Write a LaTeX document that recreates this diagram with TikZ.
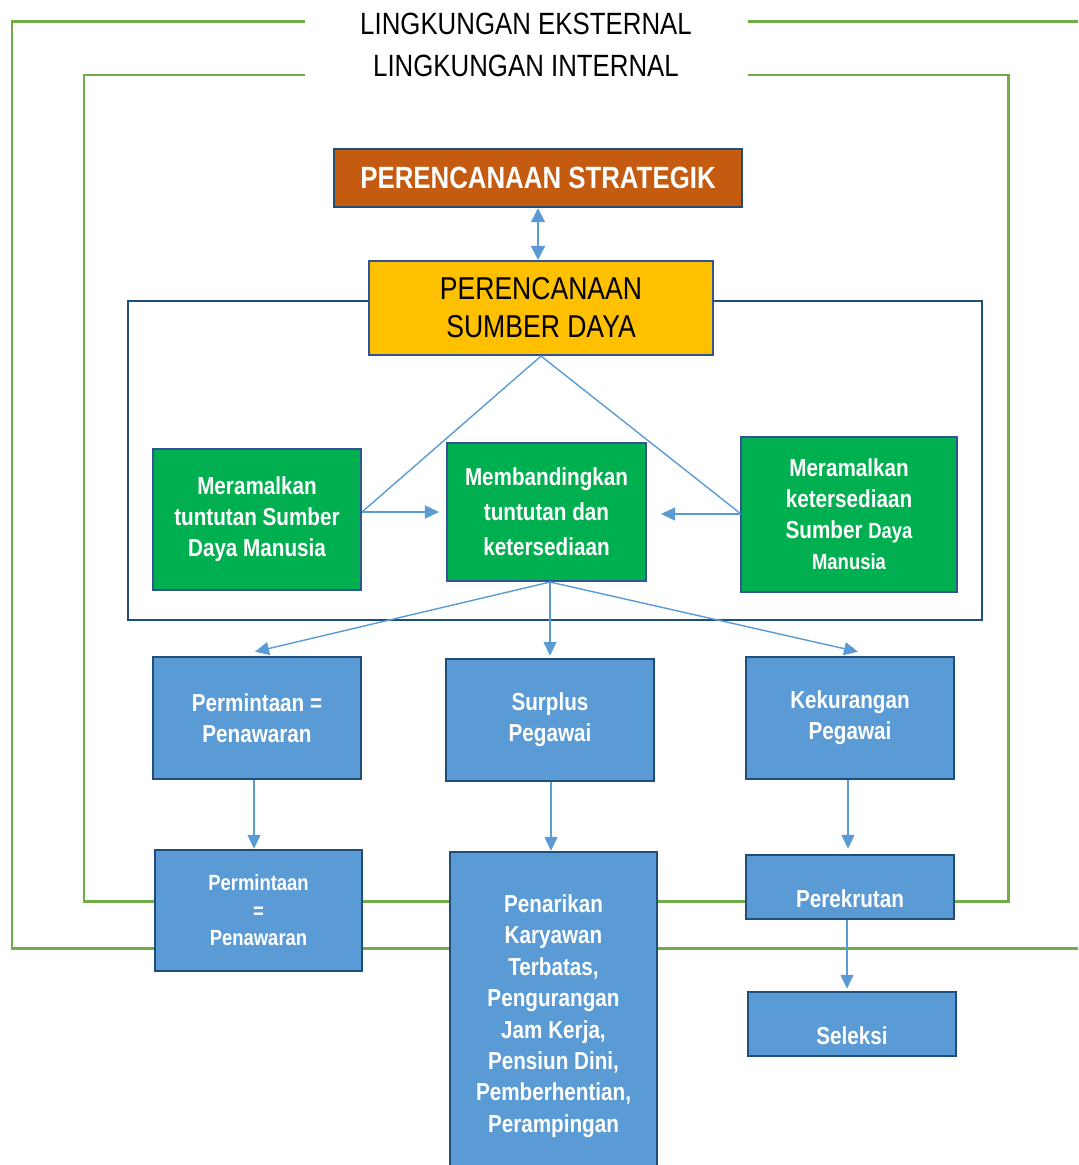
\documentclass[tikz,border=0pt]{standalone}
\usepackage{fontspec}
\setmainfont{Liberation Sans}
\newfontfamily\narrowfont{Liberation Sans}[FakeStretch=0.84]
\usetikzlibrary{arrows.meta,calc}

\definecolor{envgreen}{HTML}{70AD47}
\definecolor{darkblue}{HTML}{1F4E79}
\definecolor{edgeblue}{HTML}{2F5597}
\definecolor{boxblue}{HTML}{5B9BD5}
\definecolor{linkblue}{HTML}{5B9BD5}
\definecolor{stratorange}{HTML}{C55A11}
\definecolor{sdmyellow}{HTML}{FFC000}
\definecolor{boxgreen}{HTML}{00B050}

\begin{document}
\begin{tikzpicture}[x=0.02cm,y=-0.02cm,
  envline/.style={draw=envgreen, line width=1.7pt},
  envtext/.style={inner sep=0pt, font=\narrowfont\fontsize{17.5}{21}\selectfont},
  link/.style={draw=linkblue, line width=0.8pt},
  linkarrow/.style={link, -{Triangle[length=2.8mm,width=2.6mm]}},
  box/.style={draw=darkblue, line width=1.4pt, inner sep=2pt, align=center, text=white,
    font=\narrowfont\fontsize{14}{17.6}\selectfont\bfseries},
  greenbox/.style={box, fill=boxgreen, draw=edgeblue, line width=1.2pt},
  bluebox/.style={box, fill=boxblue},
  boxlabel/.style={inner sep=0pt, align=center, text=white,
    font=\narrowfont\fontsize{14}{17.6}\selectfont\bfseries}]
  \useasboundingbox (0,0) rectangle (1078,1165);

  % lingkungan eksternal dan internal
  \draw[envline] (305,22) -- (12,22) -- (12,948) -- (1078,948);
  \draw[envline] (748,22) -- (1078,22);
  \draw[envline] (305,75) -| (84,901) -| (1008,75) -- (748,75);
  \node[envtext] (eks) at (526,24) {LINGKUNGAN EKSTERNAL};
  \node[envtext] (int) at (526,66) {LINGKUNGAN INTERNAL};

  % kotak perencanaan sumber daya
  \draw[draw=darkblue, line width=1.2pt] (128,301) rectangle (982,620);

  \node[box, fill=stratorange, minimum width=8.16cm, minimum height=1.16cm,
    font=\narrowfont\fontsize{17.5}{21}\selectfont\bfseries] (strat) at (538,178) {PERENCANAAN STRATEGIK};
  \node[box, fill=sdmyellow, draw=edgeblue, line width=1.2pt, text=black, minimum width=6.88cm, minimum height=1.88cm,
    font=\narrowfont\fontsize{18}{21.5}\selectfont] (sdm) at (541,308) {PERENCANAAN\\SUMBER DAYA};

  \node[greenbox, minimum width=4.16cm, minimum height=2.82cm] (gl) at (257,519.5)
    {Meramalkan\\tuntutan Sumber\\Daya Manusia};
  \node[greenbox, minimum width=3.98cm, minimum height=2.76cm,
    font=\narrowfont\fontsize{14}{20}\selectfont\bfseries] (gm) at (546.5,512)
    {Membandingkan\\tuntutan dan\\ketersediaan};
  \node[greenbox, minimum width=4.32cm, minimum height=3.1cm] (gr) at (849,514.5)
    {Meramalkan\\ketersediaan\\Sumber {\fontsize{12.5}{17}\selectfont Daya}\\{\fontsize{12.5}{17}\selectfont Manusia}};

  \node[bluebox, minimum width=4.16cm, minimum height=2.44cm] (bl1) at (257,718) {Permintaan =\\Penawaran};
  \node[bluebox, minimum width=4.16cm, minimum height=2.44cm] (bm1) at (550,720) {Surplus\\Pegawai};
  \node[bluebox, minimum width=4.16cm, minimum height=2.44cm] (br1) at (850,718) {Kekurangan\\Pegawai};

  \node[bluebox, minimum width=4.14cm, minimum height=2.42cm,
    font=\narrowfont\fontsize{12.5}{15.6}\selectfont\bfseries] (bl2) at (258.5,910.5) {Permintaan\\=\\Penawaran};
  \node[bluebox, minimum width=4.14cm, minimum height=6.56cm,
    font=\narrowfont\fontsize{14}{17.9}\selectfont\bfseries] (bm2) at (553.5,1016)
    {Penarikan\\Karyawan\\Terbatas,\\Pengurangan\\Jam Kerja,\\Pensiun Dini,\\Pemberhentian,\\Perampingan};
  \node[bluebox, minimum width=4.16cm, minimum height=1.28cm] (br2) at (850,887) {};
  \node[boxlabel] (br2t) at (850,899) {Perekrutan};
  \node[bluebox, minimum width=4.16cm, minimum height=1.28cm] (sel) at (852,1024) {};
  \node[boxlabel] (selt) at (852,1036) {Seleksi};

  % penghubung
  \coordinate (jl) at (362,512);
  \coordinate (jr) at (741,514);
  \coordinate (gmb) at ($(gm.south)+(3.5,0)$);
  \draw[link, {Triangle[length=2.8mm,width=2.8mm]}-{Triangle[length=2.8mm,width=2.8mm]}] (strat.south) -- (strat.south |- sdm.north);
  \draw[link] (jl) -- (sdm.south) -- (jr);
  \draw[linkarrow] (jl) -- ($(gm.west)+(-7,0)$);
  \draw[linkarrow] (jr) -- ($(gm.east)+(14,2)$);
  \draw[linkarrow] (gmb) -- ($(bl1.north)+(-2,-4)$);
  \draw[linkarrow] (gmb) -- ($(gmb |- bm1.north)+(0,-2)$);
  \draw[linkarrow] (gmb) -- ($(br1.north)+(8,-4)$);
  \draw[linkarrow] ($(bl1.south)+(-3,0)$) -- ($(bl1.south |- bl2.north)+(-3,0)$);
  \draw[linkarrow] ($(bm1.south)+(1,0)$) -- ($(bm1.south |- bm2.north)+(1,0)$);
  \draw[linkarrow] ($(br1.south)+(-2,0)$) -- ($(br1.south |- br2.north)+(-2,-5)$);
  \draw[linkarrow] ($(br2.south)+(-3,0)$) -- ($(br2.south |- sel.north)+(-3,-2)$);
\end{tikzpicture}
\end{document}
